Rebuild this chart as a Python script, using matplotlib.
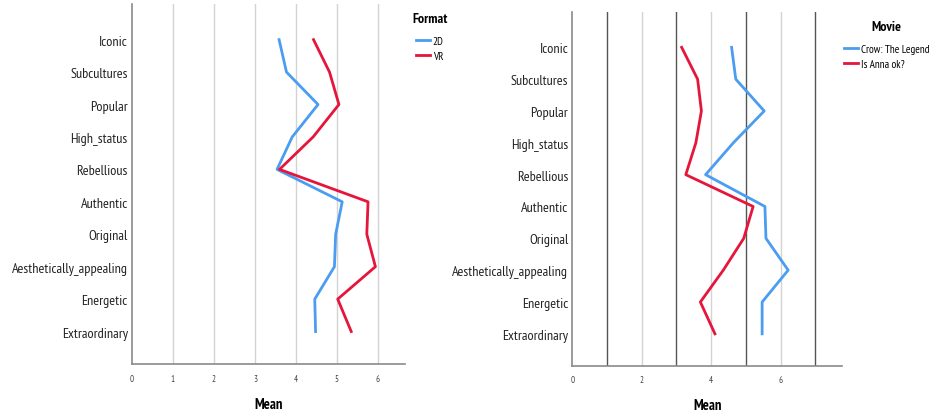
#!/usr/bin/env python
# coding: utf-8

# Mean ratings per attribute: Format (2D vs VR) and Movie comparison

import numpy as np
import matplotlib
matplotlib.use("Agg")
import matplotlib.pyplot as plt

plt.rcParams['font.family'] = ['PT Sans Narrow', 'DejaVu Sans']

attributes = ["Iconic", "Subcultures", "Popular", "High_status", "Rebellious",
              "Authentic", "Original", "Aesthetically_appealing", "Energetic",
              "Extraordinary"]

# Left chart: Format
format_2d = [3.59, 3.77, 4.54, 3.91, 3.54, 5.13, 4.97, 4.94, 4.46, 4.48]
format_vr = [4.43, 4.82, 5.05, 4.42, 3.60, 5.76, 5.73, 5.94, 5.02, 5.35]

# Right chart: Movie
movie_crow = [4.59, 4.71, 5.53, 4.64, 3.84, 5.55, 5.58, 6.22, 5.47, 5.47]
movie_anna = [3.15, 3.61, 3.72, 3.56, 3.27, 5.21, 4.94, 4.35, 3.69, 4.11]

left_ticks = [0, 1, 2, 3, 4, 5, 6]
right_ticks = [0, 2, 4, 6]

BLUE = "#4a9df0"
RED = "#e5153b"
AXIS = "#8a8a8a"


def style_axes(ax, xmax, ticks):
    y = np.arange(len(attributes))
    ax.set_yticks(y)
    ax.set_yticklabels(attributes, fontsize=10.2, color="#222222")
    ax.set_ylim(len(attributes), -1.1)
    ax.set_xlim(0, xmax)
    ax.set_xticks(ticks)
    ax.set_xticklabels([str(t) for t in ticks], fontsize=6.5, color="#444444")
    ax.tick_params(axis='both', length=0)
    ax.tick_params(axis='x', pad=7)
    ax.tick_params(axis='y', pad=3)
    for s in ['top', 'right']:
        ax.spines[s].set_visible(False)
    for s in ['left', 'bottom']:
        ax.spines[s].set_color(AXIS)
        ax.spines[s].set_linewidth(1.2)
    ax.set_xlabel("Mean", fontsize=10.5, fontweight='bold', labelpad=10)


def add_legend(ax, title, anchor):
    leg = ax.legend(title=title, loc="upper left", bbox_to_anchor=anchor,
                    frameon=False, fontsize=8, handlelength=1.3,
                    handletextpad=0.2, labelspacing=0.4, borderaxespad=0)
    leg.get_title().set_fontweight('bold')
    leg.get_title().set_fontsize(10)
    leg._legend_box.sep = 8   # larger gap between title and entries
    return leg


fig = plt.figure(figsize=(9.3, 4.14), dpi=100)
y = np.arange(len(attributes))

# Left: Format
ax1 = fig.add_axes([0.1419, 0.1184, 0.2935, 0.8696])
for g in [1, 2, 3, 4, 5, 6]:
    ax1.axvline(g, color="#d3d3d3", lw=1.0, zorder=0)
ax1.plot(format_2d, y, color=BLUE, lw=2.0, label="2D")
ax1.plot(format_vr, y, color=RED, lw=2.0, label="VR")
style_axes(ax1, 6.66, left_ticks)
add_legend(ax1, "Format", (1.01, 0.99))

# Right: Movie
ax2 = fig.add_axes([0.6154, 0.1143, 0.2903, 0.8536])
for g in [1, 3, 5, 7]:
    ax2.axvline(g, color="#555555", lw=1.0, zorder=0)
for g in [2, 4, 6]:
    ax2.axvline(g, color="#d3d3d3", lw=1.0, zorder=0)
ax2.plot(movie_crow, y, color=BLUE, lw=2.0, label="Crow: The Legend")
ax2.plot(movie_anna, y, color=RED, lw=2.0, label="Is Anna ok?")
style_axes(ax2, 7.78, right_ticks)
add_legend(ax2, "Movie", (0.99, 0.99))

fig.savefig("out.png", dpi=100)
